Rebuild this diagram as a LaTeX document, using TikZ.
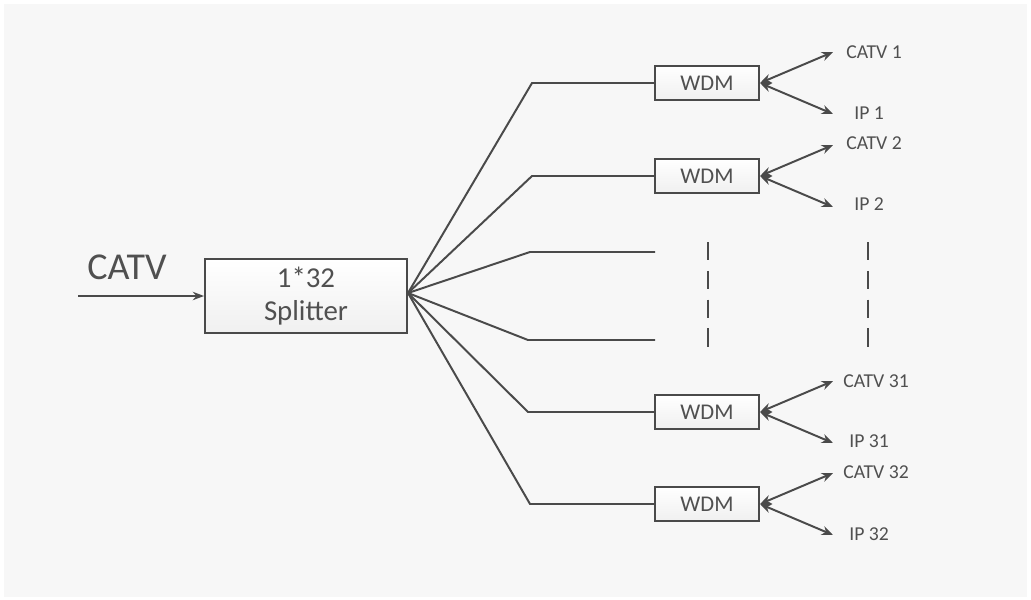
\documentclass[tikz,border=0pt]{standalone}
\usepackage{fontspec}
\setmainfont{Carlito}
\usetikzlibrary{arrows.meta,calc}
\definecolor{linegray}{HTML}{4A4A4A}
\definecolor{textgray}{HTML}{505050}
\definecolor{paper}{HTML}{F7F7F7}
\tikzset{
	wdmbox/.style={draw=linegray,line width=1.4pt,top color=white,bottom color=gray!12,minimum width=2.6cm,minimum height=0.85cm,inner sep=0pt,text=textgray,font=\fontsize{16}{16}\selectfont},
	fiber/.style={linegray,line width=1.4pt},
	outarrow/.style={linegray,line width=1.4pt,{Stealth[length=8pt,width=6.5pt]}-{Stealth[length=8pt,width=6.5pt]}},
	outlabel/.style={text=textgray,font=\fontsize{14}{14}\selectfont,anchor=west,inner sep=0pt},
}
\begin{document}
\begin{tikzpicture}[x=0.025cm,y=-0.025cm]
	\fill[white] (0,0) rectangle (1031,599);
	\fill[paper] (4,4) rectangle (1027,597);
	\useasboundingbox (0,0) rectangle (1031,599);

	\node[draw=linegray,line width=1.4pt,top color=white,bottom color=gray!12,minimum width=5.05cm,minimum height=1.85cm,inner sep=0pt,text=textgray,align=center,font=\fontsize{20.5}{24}\selectfont] (split) at (306,296) {1*32\\Splitter};
	\coordinate (in) at (78,296);
	\node[text=textgray,font=\fontsize{27}{27}\selectfont] (catv) at (127,267) {CATV};
	\draw[fiber,-{Stealth[length=8pt,width=6pt]}] (in) -- (split.west);

	\node[wdmbox] (w1) at (707,83) {WDM};
	\node[wdmbox] (w2) at (707,176) {WDM};
	\node[wdmbox] (w31) at (707,412) {WDM};
	\node[wdmbox] (w32) at (707,504) {WDM};

	\coordinate (fan) at ($(split.east)+(0,-3)$);
	\draw[fiber] (fan) -- (532,83) -- (w1.west);
	\draw[fiber] (fan) -- (532,176) -- (w2.west);
	\draw[fiber] (fan) -- (530,252) -- (655,252);
	\draw[fiber] (fan) -- (528,340) -- (655,340);
	\draw[fiber] (fan) -- (528,412) -- (w31.west);
	\draw[fiber] (fan) -- (530,504) -- (w32.west);

	\draw[fiber,dash pattern=on 13pt off 7.5pt] (708,242) -- (708,347);
	\draw[fiber,dash pattern=on 13pt off 7.5pt] (868,242) -- (868,347);

	\node[outlabel] (c1) at (846,52) {CATV 1};
	\node[outlabel] (i1) at (854,113) {IP 1};
	\node[outlabel] (c2) at (846,143) {CATV 2};
	\node[outlabel] (i2) at (854,204) {IP 2};
	\node[outlabel] (c31) at (843,381) {CATV 31};
	\node[outlabel] (i31) at (849,441) {IP 31};
	\node[outlabel] (c32) at (843,472) {CATV 32};
	\node[outlabel] (i32) at (849,534) {IP 32};

	\foreach \w in {w1,w2,w31,w32}{
		\draw[outarrow] (\w.east) -- ($(\w.east)+(73,-31)$);
		\draw[outarrow] (\w.east) -- ($(\w.east)+(73,31)$);
	}
\end{tikzpicture}
\end{document}
